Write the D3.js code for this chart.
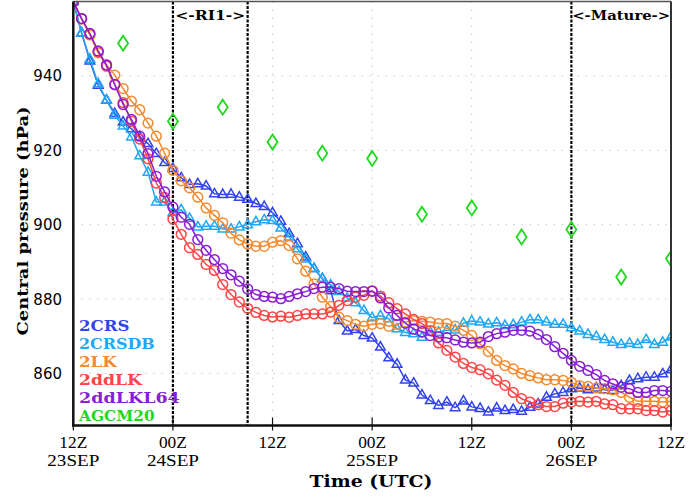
<!DOCTYPE html>
<html>
<head>
<meta charset="utf-8">
<script src="https://cdn.jsdelivr.net/npm/d3@7"></script>
<style>
body { margin:0; background:#fff; }
svg { display:block; }
</style>
</head>
<body>
<svg id="chart" width="688" height="498"></svg>
<script>
// central pressure (hPa), hourly from 12Z 23SEP to 12Z 26SEP
let crs = [960,951.5,944,937.5,933.5,929.9,927.6,925.8,923.6,921.8,919.1,916.7,915.1,912.6,910.8,911,910.4,908.3,908.1,908.2,907.4,906.8,905.7,904.9,903.2,900.9,897.6,894.9,891.3,888.2,885.5,882.2,874.2,871.4,871.8,870.2,869.5,867.1,864.2,862.5,858.2,857.4,854.2,852.7,851.4,852.3,850.8,852.6,851,850.6,849.6,850.7,850,850.3,849.8,850.9,851.8,853.6,854.5,854.9,855.9,856.1,855.6,856.1,855.6,855.4,856.7,858.1,858.6,859,859,859.9,861];
let crsdb = [960,951.6,944.5,937.9,933.5,929.4,926.5,923.6,918.5,914.1,906.1,906.1,903.2,904,901.7,899.4,899.6,899.6,898.8,898.8,899.4,900,900.8,901.3,901.1,899.1,896.7,893.5,890.8,888.2,885.5,883.8,882,880.3,879,876.9,875,875.5,874.7,872,871,870.7,869.7,871.1,871.1,871.6,871.7,873.5,874.1,873.8,873.3,873.6,872.9,873.1,873.8,874.4,874.4,873.8,873.2,873.2,872.3,871.4,870.5,869.9,869.1,868.4,867.8,868.1,867.8,869.1,867.8,868.4,869.8];
let lk = [960,955.3,951,946.2,943,940.2,936.6,933.2,930.9,927.3,923.8,919.2,914.6,911.8,909.9,907.4,904.5,902.5,900.5,897.7,895.9,894.8,894.2,894.2,895.3,895.7,894.4,890.8,887.5,884.1,880.5,878,875.1,874.2,873.2,872.7,873.2,873.4,872.7,873.2,873.8,874.2,874,873.8,873.4,873.4,872.7,871.6,870.2,868,865.9,863.5,862.1,861.2,860,859.4,858.8,858.3,858.3,858.1,857.6,856.7,856.5,856.1,855.9,855.6,854.9,853.6,852.5,852.5,852.5,852.3,852.5];
let ddlk = [960,955.4,951.2,946.5,942.6,937.6,932.8,927.8,923,917.7,911.2,907.3,901.5,897.4,893.8,892,889.3,887.7,883.9,881.2,879.2,877.5,876.4,875.6,875.2,875.4,875.1,875.6,876,876,876,876.5,878.3,879.6,880.5,881,882.2,880.8,879,877.4,876,874.5,873.4,871.5,868.2,866.2,864.4,862.7,861.6,861,859.9,858.2,856.8,854.9,853.2,852.3,851.6,851.1,851.1,852,852.3,852.5,852.3,852.5,851.8,851.6,850.5,850.5,850.5,850,850,849.6,850];
let ddlkl64 = [960,955.4,951.4,946.7,942.9,937.7,932.3,928.3,923.8,919.1,913,908.8,904.7,902,900.1,896,893.1,890.6,888.2,886.5,884.8,882.7,881.2,880.7,880.5,880.1,880.7,881.4,882,882.8,883.2,883.2,882.8,882.1,882,882,882.1,880.3,877.6,875.6,873.5,871.9,871.2,870.2,869.8,869.6,869,868.4,868.2,868.4,869.9,870.7,871.1,871.6,871.6,871.4,870.5,869.1,867.2,865.4,863.5,861.9,860.8,859.7,858.1,857.2,856.3,855.9,854.9,854.9,855.4,855.4,855.2];
// AGCM20 every 6 hours
let agcmHours = [6,12,18,24,30,36,42,48,54,60,66,72];
let agcm = [948.8,927.8,931.6,922.2,919.2,917.8,902.8,904.5,896.7,898.7,885.9,890.9];

let tickHours = [0,12,24,36,48,60,72];
let tickTop = ["12Z","00Z","12Z","00Z","12Z","00Z","12Z"];
let tickBottom = ["23SEP","24SEP","","25SEP","","26SEP",""];
let yTicks = [860,880,900,920,940];
let phaseLines = [12,21,60];

let names = ["2CRS","2CRSDB","2LK","2ddLK","2ddLKL64","AGCM20"];
let colors = ["#3344ee","#1ea8f5","#f58a2e","#ff4545","#8a1ed6","#1ed81e"];

var margin = {top: 1.5, left: 73.3, right: 17, bottom: 72.5},
width = 688, height = 498;

let slab = 'DejaVu Serif';

let svg = d3.select('#chart');

let x = d3.scaleLinear().domain([0,72]).range([margin.left, width - margin.right]);
let y = d3.scaleLinear().domain([846,960]).range([height - margin.bottom, margin.top]);

let x0 = x.range()[0], x1 = x.range()[1], y0 = y.range()[1], y1 = y.range()[0];

svg.append('defs').append('clipPath').attr('id','clip')
  .append('rect').attr('x',x0).attr('y',y0).attr('width',x1-x0).attr('height',y1-y0);

// dotted grid
svg.append('g').selectAll('line').data(yTicks).enter().append('line')
  .attr('x1',x0).attr('x2',x1).attr('y1',d=>y(d)).attr('y2',d=>y(d))
  .attr('stroke','#c8c8c8').attr('stroke-width',1).attr('stroke-dasharray','1.5,6.5');
svg.append('g').selectAll('line').data(tickHours.slice(1,-1)).enter().append('line')
  .attr('x1',d=>x(d)).attr('x2',d=>x(d)).attr('y1',y0).attr('y2',y1)
  .attr('stroke','#c8c8c8').attr('stroke-width',1).attr('stroke-dasharray','1.5,6.5');

// phase lines
svg.append('g').selectAll('line').data(phaseLines).enter().append('line')
  .attr('x1',d=>x(d)).attr('x2',d=>x(d)).attr('y1',y0).attr('y2',y1)
  .attr('stroke','#000').attr('stroke-width',2.2).attr('stroke-dasharray','3,1.5');

svg.append('text').attr('x',(x(12)+x(21))/2).attr('y',20)
  .attr('text-anchor','middle').attr('font-family',slab).attr('font-weight','bold')
  .attr('font-size',13).attr('textLength',70).attr('lengthAdjust','spacingAndGlyphs').text('<-RI1->');
svg.append('text').attr('x',(x(60)+x(72))/2).attr('y',20)
  .attr('text-anchor','middle').attr('font-family',slab).attr('font-weight','bold')
  .attr('font-size',13).attr('textLength',98).attr('lengthAdjust','spacingAndGlyphs').text('<-Mature->');

let plot = svg.append('g').attr('clip-path','url(#clip)');

let series = [crs, crsdb, lk, ddlk, ddlkl64];
let markers = ['tri','tri','circ','circ','circ'];

let line = d3.line().x((d,i)=>x(i)).y(d=>y(d));

series.forEach(function(s, k){
  plot.append('path').datum(s).attr('d',line)
    .attr('fill','none').attr('stroke',colors[k]).attr('stroke-width',1.5);
  if (markers[k] == 'circ') {
    plot.selectAll('.m'+k).data(s).enter().append('circle')
      .attr('class','m'+k)
      .attr('cx',(d,i)=>x(i)).attr('cy',d=>y(d)).attr('r',4.9)
      .attr('fill','none').attr('stroke',colors[k]).attr('stroke-width',1.5);
  } else {
    plot.selectAll('.m'+k).data(s).enter().append('path')
      .attr('class','m'+k)
      .attr('transform',(d,i)=>'translate('+x(i)+','+y(d)+')')
      .attr('d','M0,-5.4L4.8,3L-4.8,3Z')
      .attr('fill','none').attr('stroke',colors[k]).attr('stroke-width',1.5);
  }
});

plot.selectAll('.agcm').data(agcm).enter().append('path')
  .attr('class','agcm')
  .attr('transform',(d,i)=>'translate('+x(agcmHours[i])+','+y(d)+')')
  .attr('d','M0,-7.5L5,0L0,7.5L-5,0Z')
  .attr('fill','none').attr('stroke',colors[5]).attr('stroke-width',1.8);

// frame
svg.append('line').attr('x1',x0).attr('x2',x1).attr('y1',y0).attr('y2',y0).attr('stroke','#555').attr('stroke-width',1.5);
svg.append('line').attr('x1',x1).attr('x2',x1).attr('y1',y0).attr('y2',y1).attr('stroke','#333').attr('stroke-width',2);
svg.append('line').attr('x1',x0).attr('x2',x0).attr('y1',y0).attr('y2',y1+1).attr('stroke','#111').attr('stroke-width',2.5);
svg.append('line').attr('x1',x0-1).attr('x2',x1+1).attr('y1',y1).attr('y2',y1).attr('stroke','#111').attr('stroke-width',2.5);

// x ticks
let xt = svg.append('g').selectAll('g').data(tickHours).enter().append('g')
  .attr('transform',d=>'translate('+x(d)+',0)');
xt.append('line').attr('y1',y1-8).attr('y2',y1+5).attr('stroke','#111').attr('stroke-width',1.2);
xt.append('text').attr('y',447.5).attr('text-anchor','middle')
  .attr('font-family','Liberation Serif').attr('font-size',16)
  .attr('textLength',28).attr('lengthAdjust','spacingAndGlyphs').text((d,i)=>tickTop[i]);
xt.filter((d,i)=>tickBottom[i] != '').append('text').attr('y',466).attr('text-anchor','middle')
  .attr('font-family','Liberation Serif').attr('font-size',16)
  .attr('textLength',52).attr('lengthAdjust','spacingAndGlyphs')
  .text(d=>tickBottom[tickHours.indexOf(d)]);

// y labels
svg.append('g').selectAll('text').data(yTicks).enter().append('text')
  .attr('x',62).attr('y',d=>y(d)+5.5).attr('text-anchor','end')
  .attr('font-family','DejaVu Sans').attr('font-size',15).text(d=>d);

// axis titles
svg.append('text').attr('transform','translate(28,221) rotate(-90)')
  .attr('text-anchor','middle').attr('font-family',slab).attr('font-weight','bold')
  .attr('font-size',15.5).attr('textLength',229).attr('lengthAdjust','spacingAndGlyphs')
  .text('Central pressure (hPa)');
svg.append('text').attr('x',371).attr('y',487)
  .attr('text-anchor','middle').attr('font-family',slab).attr('font-weight','bold')
  .attr('font-size',17).attr('textLength',123).attr('lengthAdjust','spacingAndGlyphs')
  .text('Time (UTC)');

// legend
svg.append('g').selectAll('text').data(names).enter().append('text')
  .attr('x',79).attr('y',(d,i)=>331+i*17.9)
  .attr('font-family',slab).attr('font-weight','bold').attr('font-size',15)
  .attr('textLength',d=>d.length*12.6).attr('lengthAdjust','spacingAndGlyphs')
  .attr('fill',(d,i)=>colors[i]).text(d=>d);
</script>
</body>
</html>
